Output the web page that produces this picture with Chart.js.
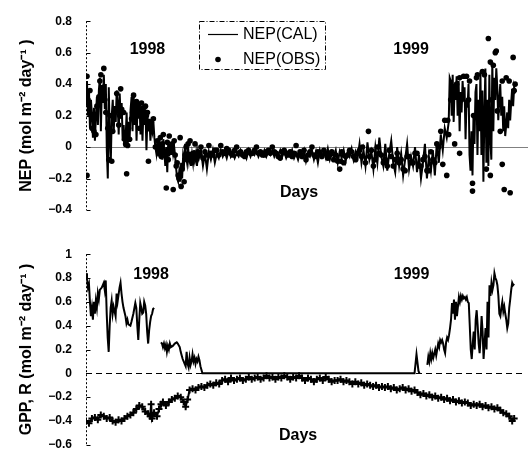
<!DOCTYPE html>
<html><head><meta charset="utf-8">
<script src="https://cdn.jsdelivr.net/npm/chart.js@4/dist/chart.umd.min.js"></script>
<style>
html,body{margin:0;padding:0;background:#fff;}
#wrap{position:relative;width:532px;height:466px;overflow:hidden;}
canvas{position:absolute;left:0;}
</style></head><body>
<div id="wrap">
<canvas id="cTop" width="532" height="233" style="top:0"></canvas>
<canvas id="cBot" width="532" height="233" style="top:233px"></canvas>
</div>
<script>
// ---------- DATA (days counted from start of record) ----------
const yearLabels = ['1998', '1999'];
const xAxisLabel = 'Days';

const nepCalDay = [
0,1,2,3,4,5,6,7,8,9, 10,11,12,13,14,15,16,17,18,19, 20,21,22,23,24,25,26,27,28,29,
30,31,32,33,34,35,36,37,38,39, 40,41,42,43,44,45,46,47,48,49, 50,51,52,53,54,55,56,57,58,59,
60,61,62,63,64,65,66,67,68,69, 70,71,72,73,74,75,76,77,78,79, 80,81,82,83,84,85,86,87,88,89,
90,91,92,93,94,95,96,97,98,99, 100,101,102,103,104,105,106,107,108,109, 110,111,112,113,114,
116,118,120,122,124,126,128,130,132,134, 136,138,140,142,144,146,148,150,152,154,
156,158,160,162,164,166,168,170,172,174, 176,178,180,182,184,186,188,190,192,194,
196,198,200,202,204,206,208,210,212,214, 216,218,220,222,224,226,228,230,232,234,
236,238,240,242,244,246,248,250,252,254, 256,258,260,262,264,266,268,270,272,274,
276,278,280,282,284,286,288,290,292,294, 296,298,300,302,304,306,308,310,312,314,
316,318,320,322,324,326,328,330,332,334, 336,338,340,342,344,346,348,350,352,354,
356,358,360,362,364,366,
367,368,369,370,371,372,373,374,375,376, 377,378,379,380,381,382,383,384,385,386,
387,388,389,390,391,392,393,394,395,396, 397,398,399,400,401,402,403,404,405,406,
407,408,409,410,411,412,413,414,415,416, 417,418,419,420,421,422,423,424,425,426,
427,428,429,430,431,432,433,434];
const nepCalVal = [
0.28,0.42,0.2,0.36,0.12,0.3,0.2,0.06,0.25,0.04, 0.2,0.32,0.14,0.36,0.44,0.1,0.38,0.28,0.46,0.24,
0.4,-0.02,-0.2,0.38,0.05,-0.1,0.2,0.3,0.1,0.26, 0.16,0.36,0.28,0.08,0.34,0.18,0.28,0.04,0.14,0.0,
0.06,0.22,0.0,0.16,0.04,0.24,0.32,0.1,0.34,0.14, 0.3,0.04,0.26,0.18,0.28,0.08,0.26,0.04,0.24,0.14,
0.24,-0.02,0.2,0.1,0.18,0.04,0.14,0.1,0.16,0.06, 0.0,-0.04,0.04,-0.06,0.06,-0.04,0.02,-0.08,0.05,-0.02,
-0.12,0.0,-0.16,0.04,-0.06,0.02,-0.05,0.03,-0.04,0.0, -0.06,-0.14,-0.2,-0.22,-0.16,-0.22,-0.1,-0.2,-0.06,-0.1,
0.02,-0.06,-0.1,0.0,-0.08,-0.03,-0.12,-0.05,-0.1,-0.02, -0.08,-0.04,-0.12,-0.03,-0.07,
-0.02,-0.12,-0.04,-0.14,-0.03,-0.08,-0.02,-0.1,-0.04,-0.07, -0.02,-0.06,-0.03,-0.07,-0.02,-0.06,-0.03,-0.07,-0.04,-0.06,
-0.02,-0.05,-0.03,-0.07,-0.02,-0.06,-0.03,-0.05,-0.02,-0.06, -0.03,-0.05,-0.02,-0.06,-0.03,-0.05,-0.02,-0.06,-0.03,-0.05,
-0.02,-0.06,-0.03,-0.07,-0.04,-0.06,-0.02,-0.07,-0.04,-0.08, -0.03,-0.06,-0.02,-0.09,-0.04,-0.06,-0.02,-0.08,-0.03,-0.1,
-0.02,-0.06,-0.03,-0.07,-0.01,-0.08,-0.04,-0.06,-0.02,-0.1, -0.03,-0.07,-0.02,-0.09,-0.03,-0.06,-0.01,-0.08,-0.03,-0.07,
0.02,-0.1,-0.02,-0.12,0.03,-0.08,-0.03,-0.14,0.0,-0.1, 0.06,-0.06,-0.12,0.02,-0.15,-0.04,0.04,-0.1,-0.16,0.0,
-0.12,-0.04,-0.18,-0.08,0.02,-0.14,-0.06,-0.12,0.0,-0.16, -0.05,-0.2,-0.1,0.02,-0.2,-0.06,-0.15,-0.02,-0.18,0.03,
-0.1,0.08,-0.02,0.12,0.06,0.16,
0.44,0.42,0.2,0.46,0.16,0.4,0.3,0.45,0.2,0.42, 0.1,0.35,0.22,0.42,0.3,0.38,0.05,0.3,0.25,0.4,
-0.05,-0.15,0.1,-0.18,0.2,0.02,0.35,0.4,-0.05,0.3, 0.1,0.48,-0.05,0.36,-0.22,0.2,0.5,-0.1,0.3,-0.12,
0.46,0.05,-0.08,0.54,0.1,0.44,0.3,0.5,0.38,0.17, 0.3,0.4,0.2,0.32,0.1,0.26,0.07,0.14,0.22,0.12,
0.3,0.17,0.28,0.37,0.26,0.38,0.35,0.36];

const nepObsDay = [
0,1,1,2,4,5,6,8,10,11, 13,14,15,17,18,19,20,22,23,24, 26,27,29,31,33,34,35,36,38,39,
40,41,42,43,44,46,47,48,49,50, 51,52,53,54,55,56,57,58,60,61, 62,63,64,66,68,70,72,74,75,76,
77,78,80,81,82,83,84,86,87,88, 89,90,91,92,93,94,95,96,97,99, 100,101,102,103,105,106,107,108,110,112,
113,115,116,118,120,122,124,126,128,130, 132,134,136,138,140,142,144,146,148,150,
152,154,156,158,160,162,164,166,168,170, 172,174,176,178,180,182,184,186,188,190,
192,194,196,198,200,202,204,206,208,210, 212,214,216,218,220,222,224,226,228,230,
232,234,236,238,240,242,244,246,248,250, 252,254,256,257,258,260,262,264,266,268,
270,272,274,276,278,279,282,285,286,288, 290,292,294,296,298,300,302,304,306,308,
310,312,314,316,318,320,322,324,326,328, 330,332,334,336,338,340,342,344,346,348,
350,352,354,356,358,360,362,364,365,366, 368,370,372,374,377,377,379,381,384,386,
387,390,390,391,394,395,398,400,402,404, 406,408,408,409,411,413,414,415,418,420,
420,422,424,427,428,431,432,433];
const nepObsVal = [
0.28,0.45,-0.18,0.3,0.36,0.2,0.12,0.1,0.08,0.26, 0.32,0.42,0.46,0.38,0.5,0.3,0.22,0.12,-0.08,0.2,
-0.09,0.1,0.22,0.34,0.14,0.2,0.37,0.24,0.22,0.05, 0.02,-0.17,0.01,0.12,0.05,0.18,0.22,0.33,0.16,0.26,
0.29,0.22,0.27,0.12,0.24,0.28,0.18,0.25,0.26,0.2, 0.22,-0.09,0.12,0.16,0.18,0.0,0.04,-0.04,0.06,-0.06,
0.02,0.08,-0.04,-0.26,0.03,-0.08,0.07,-0.02,0.02,-0.27, 0.04,-0.05,-0.12,-0.1,-0.18,-0.2,0.06,-0.25,-0.14,-0.22,
-0.05,0.0,-0.08,0.02,0.04,-0.06,-0.1,-0.04,0.02,-0.06, -0.03,-0.05,0.0,-0.07,-0.03,-0.05,0.01,-0.04,-0.05,-0.02,
-0.02,-0.05,0.01,-0.03,-0.04,-0.01,-0.02,-0.04,-0.05,-0.02, 0.0,-0.04,-0.03,-0.05,-0.06,-0.03,-0.02,-0.04,-0.04,-0.02,
0.0,-0.04,-0.03,-0.05,-0.05,-0.03,-0.02,-0.04,0.0,-0.03, -0.04,-0.06,-0.07,-0.03,-0.02,-0.04,-0.05,-0.03,-0.06,-0.04,
0.01,-0.05,-0.03,-0.06,-0.02,-0.08,-0.05,-0.03,0.0,-0.05, -0.06,-0.03,-0.04,-0.06,-0.02,-0.04,-0.07,-0.05,-0.03,-0.08,
-0.05,-0.09,-0.14,-0.09,-0.03,-0.1,-0.06,-0.05,-0.02,-0.03, -0.06,-0.08,-0.04,-0.02,-0.06,0.0,-0.1,0.1,-0.06,-0.02,
-0.12,-0.08,0.0,-0.04,-0.05,-0.1,-0.08,-0.12,-0.02,-0.06, -0.12,-0.08,-0.04,-0.1,-0.08,-0.14,-0.15,-0.06,-0.06,-0.1,
-0.1,-0.04,-0.04,-0.12,-0.12,-0.08,-0.06,-0.15,-0.15,-0.03, -0.08,-0.1,0.02,0.0,0.1,-0.11,0.17,-0.18,0.17,0.08,
0.3,0.35,0.02,0.4,0.44,-0.04,0.3,0.45,0.45,0.3, 0.42,-0.23,-0.28,0.2,0.44,0.46,0.25,0.48,0.46,-0.14,
0.69,-0.18,0.54,0.3,0.52,0.6,0.61,0.23,0.1,-0.11, 0.42,-0.27,0.44,0.42,-0.29,0.57,0.36,0.4];

const gppDay = [
0,1,2,3,4,5,6,7,8,9, 10,11,12,13,14,16,18,19,20,21, 22,23,24,25,26,27,28,30,31,32,
34,35,36,37,38,40,41,42,43,45, 46,48,50,51,52,53,54,55,56,57, 58,59,60,61,62,63,64,65,66,67,
68,69,72,76,77,78,79,80,81,82, 83,84,85,86,88,90,92,93,95,96, 97,98,99,100,101,102,103,104,105,106,
107,108,109,110,111,112,113,114,115,116, 117,118,333,334,335,336,337,338,340,346,
347,348,349,350,351,352,354,355,357,358, 359,360,361,362,363,364,365,366,367,368,
369,370,371,372,373,374,375,376,377,378, 379,380,381,382,383,384,385,386,387,388,
389,390,391,392,393,394,395,396,397,398, 399,400,401,402,403,404,405,406,407,408,
409,410,411,412,413,414,415,416,417,418, 419,420,421,422,423,424,425,426,427,428,
429,430,431,432,433,434];
const gppVal = [
0.84,0.8,0.72,0.75,0.6,0.48,0.55,0.45,0.6,0.5, 0.61,0.55,0.67,0.62,0.7,0.72,0.76,0.7,0.78,0.5,
0.3,0.18,0.4,0.55,0.61,0.5,0.56,0.48,0.67,0.6, 0.72,0.76,0.67,0.6,0.55,0.48,0.42,0.45,0.41,0.4,
0.43,0.5,0.59,0.55,0.4,0.28,0.45,0.59,0.55,0.5, 0.51,0.6,0.57,0.5,0.35,0.25,0.36,0.43,0.48,0.5,
0.54,0.55,null,0.26,0.25,0.22,0.25,0.21,0.24,0.18, 0.23,0.2,0.25,0.22,0.23,0.25,0.26,0.25,0.22,0.18,
0.15,0.12,0.1,0.08,0.06,0.18,0.08,0.05,0.13,0.07, 0.1,0.16,0.1,0.13,0.08,0.12,0.1,0.14,0.11,0.06,
0.03,0.0,0.0,0.08,0.16,0.09,0.02,0.0,null,0.07,
0.14,0.1,0.17,0.12,0.17,0.13,0.2,0.15,0.25,0.22, 0.28,0.26,0.28,0.25,0.2,0.17,0.26,0.3,0.28,0.32,
0.38,0.45,0.59,0.5,0.62,0.45,0.6,0.48,0.56,0.64, 0.6,0.65,0.62,0.65,0.63,0.64,0.62,0.64,0.6,0.59,
0.4,0.2,0.12,0.25,0.35,0.2,0.45,0.53,0.4,0.25, 0.17,0.3,0.48,0.35,0.12,0.25,0.38,0.2,0.6,0.3,
0.74,0.65,0.76,0.7,0.74,0.84,0.8,0.78,0.74,0.65, 0.5,0.48,0.55,0.6,0.52,0.56,0.5,0.45,0.38,0.42,
0.55,0.62,0.7,0.76,0.74,0.75];

const rDay = [
0,3,6,9,12,15,18,21,24,27, 30,33,36,39,42,45,48,51,54,57, 60,63,65,66,67,69,72,74,76,78,
81,84,87,90,93,96,99,101,103,105, 108,111,114,117,120,123,126,129,132,135, 138,141,144,147,150,153,156,159,162,165,
168,171,174,177,180,183,186,189,192,195, 198,201,204,207,210,213,216,219,222,225, 228,231,234,237,240,243,246,249,252,255,
258,261,264,267,270,273,276,279,282,285, 288,291,294,297,300,303,306,309,312,315, 318,321,324,327,330,333,336,339,342,345,
348,351,354,357,360,363,366,369,372,375, 378,381,384,387,390,393,396,399,402,405, 408,411,414,417,420,423,426,429,432,434];
const rVal = [
-0.4,-0.42,-0.38,-0.37,-0.39,-0.35,-0.36,-0.38,-0.37,-0.4, -0.41,-0.39,-0.4,-0.38,-0.36,-0.35,-0.33,-0.3,-0.27,-0.28,
-0.32,-0.34,-0.36,-0.26,-0.38,-0.33,-0.36,-0.3,-0.26,-0.24, -0.27,-0.24,-0.22,-0.21,-0.19,-0.2,-0.24,-0.28,-0.22,-0.14,
-0.13,-0.14,-0.12,-0.11,-0.12,-0.1,-0.09,-0.1,-0.08,-0.09, -0.06,-0.05,-0.07,-0.04,-0.06,-0.05,-0.04,-0.06,-0.05,-0.03,
-0.05,-0.04,-0.03,-0.05,-0.04,-0.02,-0.04,-0.03,-0.05,-0.03, -0.04,-0.02,-0.03,-0.05,-0.03,-0.04,-0.02,-0.04,-0.06,-0.04,
-0.05,-0.07,-0.05,-0.04,-0.06,-0.03,-0.05,-0.07,-0.06,-0.06, -0.05,-0.07,-0.06,-0.07,-0.09,-0.07,-0.09,-0.08,-0.1,-0.09,
-0.1,-0.11,-0.1,-0.12,-0.11,-0.12,-0.11,-0.13,-0.12,-0.14, -0.13,-0.12,-0.14,-0.13,-0.15,-0.14,-0.16,-0.18,-0.17,-0.19,
-0.18,-0.2,-0.19,-0.21,-0.2,-0.22,-0.21,-0.23,-0.22,-0.24, -0.23,-0.25,-0.24,-0.25,-0.27,-0.26,-0.27,-0.26,-0.28,-0.27,
-0.29,-0.28,-0.3,-0.29,-0.31,-0.33,-0.34,-0.36,-0.4,-0.38];

const nepTicks = [-0.4, -0.2, 0, 0.2, 0.4, 0.6, 0.8];
const gprTicks = [-0.6, -0.4, -0.2, 0, 0.2, 0.4, 0.6, 0.8, 1];

// ---------- helpers ----------
const FONT = "'Liberation Sans', Arial, Helvetica, sans-serif";
Chart.defaults.font.family = FONT;
Chart.defaults.color = '#000';
const pts = (d, v) => d.map((x, i) => ({x: x, y: v[i]}));
const fmt = v => { const r = Math.round(v * 10) / 10; return String(r).replace('-', '\u2212'); };

function drawMarker(ctx, style, x, y, r) {
  ctx.beginPath();
  if (style === 'cross') {
    ctx.moveTo(x - r, y); ctx.lineTo(x + r, y);
    ctx.moveTo(x, y - r); ctx.lineTo(x, y + r);
    ctx.stroke();
  } else {
    ctx.arc(x, y, r, 0, Math.PI * 2); ctx.fill();
  }
}

const deco = {
  id: 'deco',
  beforeDatasetsDraw(chart, args, o) {
    const {ctx, chartArea: a, scales: {y}} = chart;
    ctx.save();
    const y0 = Math.round(y.getPixelForValue(0)) + 0.5;
    ctx.lineWidth = 1;
    ctx.strokeStyle = o.zeroColor;
    ctx.setLineDash(o.zeroDash);
    ctx.beginPath(); ctx.moveTo(a.left, y0); ctx.lineTo(a.right, y0); ctx.stroke();
    ctx.strokeStyle = '#000';
    ctx.setLineDash([2, 2]);
    const ax = a.left + 0.5;
    ctx.beginPath(); ctx.moveTo(ax, a.top); ctx.lineTo(ax, a.bottom); ctx.stroke();
    ctx.setLineDash([]);
    y.ticks.forEach(t => {
      const py = Math.round(y.getPixelForValue(t.value)) + 0.5;
      ctx.beginPath(); ctx.moveTo(ax, py); ctx.lineTo(ax + 4, py); ctx.stroke();
    });
    ctx.restore();
  },
  afterDatasetsDraw(chart, args, o) {
    const {ctx, scales: {x, y}} = chart;
    ctx.save();
    ctx.fillStyle = '#000';
    ctx.textAlign = 'center'; ctx.textBaseline = 'middle';
    (o.texts || []).forEach(t => {
      ctx.font = t.font;
      ctx.fillText(t.text, x.getPixelForValue(t.x), y.getPixelForValue(t.y));
    });
    const L = o.legend;
    ctx.fillStyle = '#fff';
    ctx.fillRect(L.x, L.y, L.w, L.h);
    ctx.strokeStyle = '#000'; ctx.lineWidth = 1;
    ctx.setLineDash([5, 2, 1, 2]);
    ctx.strokeRect(L.x + 0.5, L.y + 0.5, L.w, L.h);
    ctx.setLineDash([]);
    ctx.fillStyle = '#000';
    ctx.textAlign = 'left';
    ctx.font = L.font;
    L.order.forEach((di, k) => {
      const ds = chart.data.datasets[di];
      const ry = L.rows[k];
      if (ds.showLine !== false) {
        ctx.lineWidth = 1.2;
        ctx.beginPath(); ctx.moveTo(L.sx1, ry + 0.5); ctx.lineTo(L.sx2, ry + 0.5); ctx.stroke();
      }
      if (ds.pointRadius > 0) {
        ctx.lineWidth = 1.2;
        drawMarker(ctx, ds.pointStyle, L.mx, ry + 0.5, ds.pointStyle === 'cross' ? 3 : ds.pointRadius);
      }
      ctx.fillText(ds.label, L.tx, ry + 1);
    });
    ctx.restore();
  }
};

function yScale(min, max, ticks, title) {
  return {
    type: 'linear', min: min, max: max,
    afterBuildTicks: s => { s.ticks = ticks.map(v => ({value: v})); },
    afterFit: s => { s.width = 86; },
    grid: {display: false, drawTicks: false},
    border: {display: false},
    ticks: {padding: 14, font: {size: 12, weight: 'bold'}, callback: v => fmt(v)},
    title: {display: true, text: title, font: {size: 16, weight: 'bold'}, padding: {top: 17, bottom: 0}}
  };
}
const xScale = {type: 'linear', min: 0, max: 446, display: false};

new Chart(document.getElementById('cTop'), {
  type: 'line',
  data: {datasets: [
    {label: 'NEP(CAL)', data: pts(nepCalDay, nepCalVal), borderColor: '#000', borderWidth: 2,
     pointRadius: 0, tension: 0, spanGaps: false},
    {label: 'NEP(OBS)', data: pts(nepObsDay, nepObsVal), showLine: false, borderColor: '#000',
     backgroundColor: '#000', pointRadius: 2.8, pointBorderWidth: 0, pointStyle: 'circle'}
  ]},
  options: {
    responsive: false, animation: false, events: [],
    layout: {padding: {top: 16, bottom: 23, left: 0, right: 0}},
    scales: {x: xScale, y: yScale(-0.4, 0.8, nepTicks, 'NEP (mol m\u207B\u00B2 day\u207B\u00B9 )')},
    plugins: {
      legend: {display: false}, tooltip: {enabled: false},
      deco: {
        zeroColor: '#808080', zeroDash: [],
        texts: [
          {text: yearLabels[0], x: 62, y: 0.62, font: 'bold 16px ' + FONT},
          {text: yearLabels[1], x: 328, y: 0.62, font: 'bold 16px ' + FONT},
          {text: xAxisLabel, x: 215, y: -0.29, font: 'bold 16px ' + FONT}
        ],
        legend: {x: 199, y: 21, w: 126, h: 48, rows: [34, 59], sx1: 208, sx2: 238, mx: 218, tx: 243,
                 order: [0, 1], font: '16px ' + FONT}
      }
    }
  },
  plugins: [deco]
});

new Chart(document.getElementById('cBot'), {
  type: 'line',
  data: {datasets: [
    {label: 'R', data: pts(rDay, rVal), borderColor: '#000', backgroundColor: '#000', borderWidth: 2,
     pointRadius: 3.5, pointStyle: 'cross', pointBorderWidth: 2, tension: 0},
    {label: 'GPP', data: pts(gppDay, gppVal), borderColor: '#000', borderWidth: 2,
     pointRadius: 0, tension: 0, spanGaps: false}
  ]},
  options: {
    responsive: false, animation: false, events: [],
    layout: {padding: {top: 16, bottom: 9, left: 0, right: 0}},
    scales: {x: xScale, y: yScale(-0.6, 1, gprTicks, 'GPP, R (mol m\u207B\u00B2 day\u207B\u00B9 )')},
    plugins: {
      legend: {display: false}, tooltip: {enabled: false},
      deco: {
        zeroColor: '#000', zeroDash: [6, 4],
        texts: [
          {text: yearLabels[0], x: 66, y: 0.83, font: 'bold 16px ' + FONT},
          {text: yearLabels[1], x: 330, y: 0.83, font: 'bold 16px ' + FONT},
          {text: xAxisLabel, x: 215, y: -0.52, font: 'bold 16px ' + FONT}
        ],
        legend: {x: 250, y: 275, w: 92, h: 46, rows: [289, 313], sx1: 255, sx2: 297, mx: 276, tx: 301,
                 order: [0, 1], font: '16px ' + FONT}
      }
    }
  },
  plugins: [deco]
});
</script>
</body></html>
